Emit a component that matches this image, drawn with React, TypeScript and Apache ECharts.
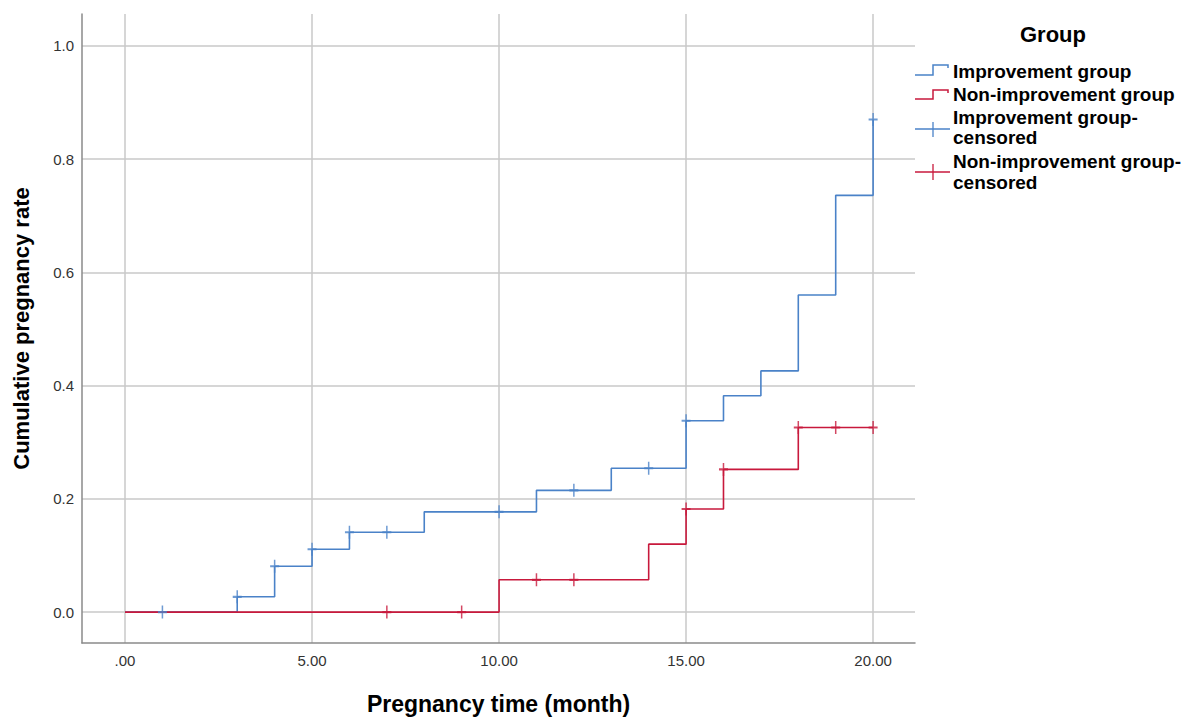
import React, { useEffect, useRef } from "react";
import * as echarts from "echarts";

// Kaplan-Meier style cumulative pregnancy curves
const improvementSteps: [number, number][] = [
  [0, 0], [3, 0.027], [4, 0.081], [5, 0.111], [6, 0.141], [8, 0.177],
  [11, 0.215], [13, 0.254], [15, 0.338], [16, 0.382], [17, 0.426],
  [18, 0.56], [19, 0.736], [20, 0.87],
];
const nonImprovementSteps: [number, number][] = [
  [0, 0], [10, 0.057], [14, 0.12], [15, 0.182], [16, 0.252], [18, 0.326], [20, 0.326],
];
const improvementCensored: [number, number][] = [
  [1, 0], [3, 0.027], [4, 0.081], [5, 0.111], [6, 0.141], [7, 0.141],
  [10, 0.177], [12, 0.215], [14, 0.254], [15, 0.338], [20, 0.87],
];
const nonImprovementCensored: [number, number][] = [
  [7, 0], [9, 0], [11, 0.057], [12, 0.057], [15, 0.182], [16, 0.252],
  [18, 0.326], [19, 0.326], [20, 0.326],
];
const xTicks = [0, 5, 10, 15, 20];
const yTicks = [0, 0.2, 0.4, 0.6, 0.8, 1.0];
const legendNames = [
  "Improvement group",
  "Non-improvement group",
  "Improvement group-",
  "censored",
  "Non-improvement group-",
  "censored",
];

const BLUE = "#4a82c8";
const RED = "#c8193c";
const FONT = "'Liberation Sans', Arial, sans-serif";
const PLUS = "path://M4,0 L4,12 M0,6 L8,6";

export default function App() {
  const ref = useRef<HTMLDivElement>(null);
  useEffect(() => {
    if (!ref.current) return;
    const chart = echarts.init(ref.current, undefined, { renderer: "svg" });
    const legendText = (text: string, y: number) => ({
      type: "text",
      left: 953,
      top: y - 11,
      style: { text, font: `bold 19px ${FONT}`, fill: "#000" },
    });
    chart.setOption({
      animation: false,
      backgroundColor: "#fff",
      grid: { left: 82, right: 279, top: 14, bottom: 75, containLabel: false },
      xAxis: {
        type: "value",
        min: -1.15,
        max: 21.12,
        name: "Pregnancy time (month)",
        nameLocation: "middle",
        nameGap: 49,
        nameTextStyle: { fontFamily: FONT, fontSize: 23, fontWeight: "bold", color: "#000" },
        axisLine: { onZero: false, lineStyle: { color: "#8a8a8a", width: 1.5 } },
        axisTick: { show: false, customValues: xTicks },
        axisLabel: {
          customValues: xTicks,
          margin: 10,
          fontFamily: FONT,
          fontSize: 15,
          color: "#333",
          formatter: (v: number) => (v === 0 ? ".00" : v.toFixed(2)),
        },
        splitLine: { show: true, lineStyle: { color: "#c8c8c8", width: 1.5 } },
      },
      yAxis: {
        type: "value",
        min: -0.0546,
        max: 1.0563,
        name: "Cumulative pregnancy rate",
        nameLocation: "middle",
        nameGap: 50,
        nameTextStyle: { fontFamily: FONT, fontSize: 22, fontWeight: "bold", color: "#000" },
        axisLine: { show: true, onZero: false, lineStyle: { color: "#8a8a8a", width: 1.5 } },
        axisTick: { show: false, customValues: yTicks },
        axisLabel: {
          customValues: yTicks,
          margin: 8,
          fontFamily: FONT,
          fontSize: 15,
          color: "#333",
          formatter: (v: number) => v.toFixed(1),
        },
        splitLine: { show: true, lineStyle: { color: "#c8c8c8", width: 1.5 } },
      },
      series: [
        {
          name: "Improvement group",
          type: "line",
          step: "end",
          data: improvementSteps,
          showSymbol: false,
          symbol: "none",
          lineStyle: { color: BLUE, width: 1.6 },
          z: 3,
        },
        {
          name: "Non-improvement group",
          type: "line",
          step: "end",
          data: nonImprovementSteps,
          showSymbol: false,
          symbol: "none",
          lineStyle: { color: RED, width: 1.6 },
          z: 3,
        },
        {
          name: "Improvement group-censored",
          type: "scatter",
          data: improvementCensored,
          symbol: PLUS,
          symbolSize: [9, 13],
          itemStyle: { color: BLUE, borderColor: BLUE, borderWidth: 1.8 },
          z: 4,
        },
        {
          name: "Non-improvement group-censored",
          type: "scatter",
          data: nonImprovementCensored,
          symbol: PLUS,
          symbolSize: [9, 13],
          itemStyle: { color: RED, borderColor: RED, borderWidth: 1.8 },
          z: 4,
        },
      ],
      graphic: [
        {
          type: "text",
          left: 1053 - 33,
          top: 23,
          style: { text: "Group", font: `bold 22px ${FONT}`, fill: "#000" },
        },
        {
          type: "polyline",
          shape: { points: [[915, 75], [933, 75], [933, 65], [948, 65], [948, 68]] },
          style: { stroke: BLUE, lineWidth: 1.5, fill: "none" },
        },
        {
          type: "polyline",
          shape: { points: [[915, 99], [933, 99], [933, 90], [948, 90], [948, 93]] },
          style: { stroke: RED, lineWidth: 1.5, fill: "none" },
        },
        { type: "line", shape: { x1: 915, y1: 129, x2: 950, y2: 129 }, style: { stroke: BLUE, lineWidth: 1.3 } },
        { type: "line", shape: { x1: 933, y1: 122, x2: 933, y2: 137 }, style: { stroke: BLUE, lineWidth: 1.3 } },
        { type: "line", shape: { x1: 915, y1: 172, x2: 950, y2: 172 }, style: { stroke: RED, lineWidth: 1.3 } },
        { type: "line", shape: { x1: 933, y1: 164, x2: 933, y2: 180 }, style: { stroke: RED, lineWidth: 1.3 } },
        legendText(legendNames[0], 73),
        legendText(legendNames[1], 96),
        legendText(legendNames[2], 119),
        legendText(legendNames[3], 139),
        legendText(legendNames[4], 163),
        legendText(legendNames[5], 184),
      ],
    });
    return () => chart.dispose();
  }, []);
  return <div ref={ref} style={{ width: 1194, height: 720, position: "absolute", left: 0, top: 0 }} />;
}
